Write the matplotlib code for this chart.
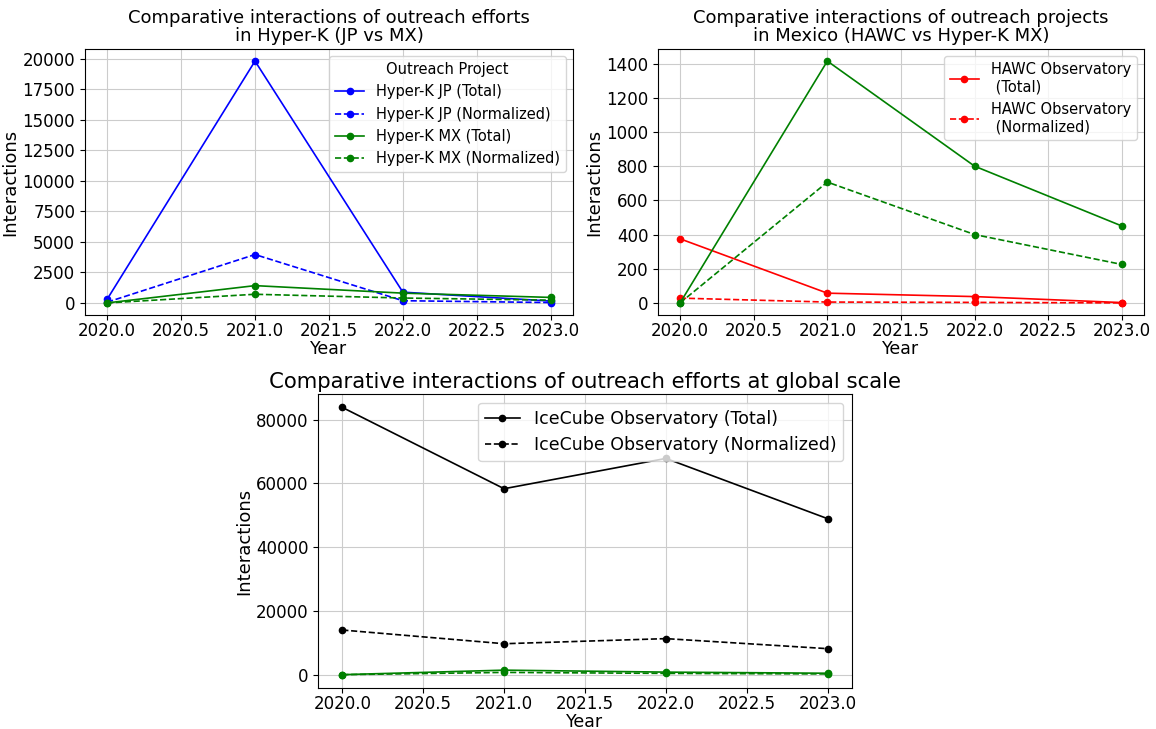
import matplotlib

matplotlib.use("Agg")
import matplotlib.pyplot as plt  # noqa: E402
from matplotlib.ticker import MultipleLocator  # noqa: E402

years = [2020, 2021, 2022, 2023]

# Hyper-K Japan
hk_jp_total = [300, 19800, 880, 150]
hk_jp_norm = [60, 3960, 180, 30]

# Hyper-K Mexico
hk_mx_total = [0, 1415, 800, 450]
hk_mx_norm = [0, 707, 400, 225]

# HAWC Observatory
hawc_total = [375, 57, 37, 2]
hawc_norm = [28, 5, 3, 0]

# IceCube Observatory
icecube_total = [83800, 58300, 67800, 48900]
icecube_norm = [14000, 9700, 11300, 8150]

plt.rcParams["font.family"] = "DejaVu Sans"

fig = plt.figure(figsize=(11.56, 7.29), dpi=100)
ax1 = fig.add_axes([0.0735, 0.5679, 0.4221, 0.3649])
ax2 = fig.add_axes([0.5692, 0.5679, 0.4204, 0.3649])
ax3 = fig.add_axes([0.2751, 0.0562, 0.4619, 0.4033])

lw = 1.2
ms = 4.5

# top left: Hyper-K JP vs MX
ax1.plot(years, hk_jp_total, "-o", color="blue", lw=lw, ms=ms, label="Hyper-K JP (Total)")
ax1.plot(years, hk_jp_norm, "--o", color="blue", lw=lw, ms=ms, label="Hyper-K JP (Normalized)")
ax1.plot(years, hk_mx_total, "-o", color="green", lw=lw, ms=ms, label="Hyper-K MX (Total)")
ax1.plot(years, hk_mx_norm, "--o", color="green", lw=lw, ms=ms, label="Hyper-K MX (Normalized)")
ax1.set_title("Comparative interactions of outreach efforts\nin Hyper-K (JP vs MX)", fontsize=13, linespacing=1.0)
ax1.yaxis.set_major_locator(MultipleLocator(2500))
ax1.legend(title="Outreach Project", loc="upper right", fontsize=10.5, title_fontsize=10.5)

# top right: HAWC vs Hyper-K MX
ax2.plot(years, hawc_total, "-o", color="red", lw=lw, ms=ms, label="HAWC Observatory\n (Total)")
ax2.plot(years, hawc_norm, "--o", color="red", lw=lw, ms=ms, label="HAWC Observatory\n (Normalized)")
ax2.plot(years, hk_mx_total, "-o", color="green", lw=lw, ms=ms)
ax2.plot(years, hk_mx_norm, "--o", color="green", lw=lw, ms=ms)
ax2.set_title("Comparative interactions of outreach projects\nin Mexico (HAWC vs Hyper-K MX)", fontsize=13, linespacing=1.0)
ax2.yaxis.set_major_locator(MultipleLocator(200))
ax2.legend(loc="upper right", fontsize=10.5)

# bottom: global scale
ax3.plot(years, icecube_total, "-o", color="black", lw=lw, ms=ms, label="IceCube Observatory (Total)")
ax3.plot(years, icecube_norm, "--o", color="black", lw=lw, ms=ms, label="IceCube Observatory (Normalized)")
ax3.plot(years, hk_mx_total, "-o", color="green", lw=lw, ms=ms)
ax3.plot(years, hk_mx_norm, "--o", color="green", lw=lw, ms=ms)
ax3.set_title("Comparative interactions of outreach efforts at global scale", fontsize=15.3, pad=4)
ax3.legend(loc="upper right", fontsize=12.5)

for ax in (ax1, ax2, ax3):
    ax.set_xlabel("Year", fontsize=12.5, labelpad=0)
    ax.set_ylabel("Interactions", fontsize=13, labelpad=2)
    ax.grid(True, color="#cccccc", linewidth=0.8)
    ax.tick_params(labelsize=12)
    ax.tick_params(axis="x", pad=1.5)

fig.savefig("out.png")
